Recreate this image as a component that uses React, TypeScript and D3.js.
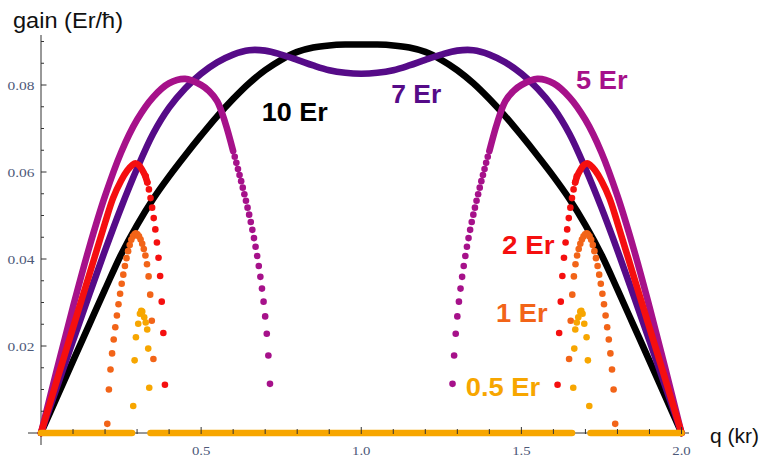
import React from 'react';
import * as d3 from 'd3';

type P = [number, number];

const W = 762;
const H = 459;

// ---- data: q (kr), gain (Er/ħ) ----
const er10: P[] = [
  [0, 0], [0.05, 0.0083], [0.1, 0.0166], [0.15, 0.0248], [0.2, 0.033], [0.25, 0.041],
  [0.3, 0.0478], [0.35, 0.0538], [0.4, 0.059], [0.45, 0.0638], [0.5, 0.0684], [0.55, 0.0728],
  [0.6, 0.0768], [0.65, 0.0804], [0.7, 0.0834], [0.75, 0.0858], [0.8, 0.0876], [0.85, 0.0886],
  [0.9, 0.0891], [0.95, 0.0893], [1.0, 0.0893], [1.05, 0.0893], [1.1, 0.0891], [1.15, 0.0886],
  [1.2, 0.0876], [1.25, 0.0858], [1.3, 0.0834], [1.35, 0.0804], [1.4, 0.0768], [1.45, 0.0728],
  [1.5, 0.0684], [1.55, 0.0638], [1.6, 0.059], [1.65, 0.0538], [1.7, 0.0478], [1.75, 0.041],
  [1.8, 0.033], [1.85, 0.0248], [1.9, 0.0166], [1.95, 0.0083], [2.0, 0],
];

const er7: P[] = [
  [0, 0], [0.05, 0.0106], [0.1, 0.0212], [0.15, 0.0317], [0.2, 0.042], [0.25, 0.0518],
  [0.3, 0.0608], [0.35, 0.0688], [0.4, 0.0748], [0.45, 0.0792], [0.5, 0.0826], [0.55, 0.0852],
  [0.6, 0.087], [0.65, 0.088], [0.7, 0.0879], [0.75, 0.087], [0.8, 0.0858], [0.85, 0.0845],
  [0.9, 0.0834], [0.95, 0.0828], [1.0, 0.0826], [1.05, 0.0828], [1.1, 0.0834], [1.15, 0.0845],
  [1.2, 0.0858], [1.25, 0.087], [1.3, 0.0879], [1.35, 0.088], [1.4, 0.087], [1.45, 0.0852],
  [1.5, 0.0826], [1.55, 0.0792], [1.6, 0.0748], [1.65, 0.0688], [1.7, 0.0608], [1.75, 0.0518],
  [1.8, 0.042], [1.85, 0.0317], [1.9, 0.0212], [1.95, 0.0106], [2.0, 0],
];

const er5LineLeft: P[] = [
  [0, 0], [0.05, 0.0147], [0.1, 0.029], [0.15, 0.0425], [0.2, 0.0545], [0.25, 0.0645],
  [0.3, 0.072], [0.35, 0.0772], [0.4, 0.0804], [0.45, 0.0814], [0.5, 0.08], [0.525, 0.0786],
  [0.55, 0.0763], [0.575, 0.0714], [0.6, 0.0648],
];
const er5LineRight: P[] = [
  [1.4, 0.0648], [1.425, 0.0714], [1.45, 0.0763], [1.475, 0.0786], [1.5, 0.08], [1.55, 0.0814],
  [1.6, 0.0804], [1.65, 0.0772], [1.7, 0.072], [1.75, 0.0645], [1.8, 0.0545], [1.85, 0.0425],
  [1.9, 0.029], [1.95, 0.0147], [2.0, 0],
];
const er5DotsLeft: P[] = [
  [0.605, 0.0635], [0.61, 0.0621], [0.615, 0.0607], [0.62, 0.0593], [0.625, 0.0579], [0.63, 0.0564],
  [0.635, 0.0549], [0.64, 0.0534], [0.645, 0.0518], [0.65, 0.0502], [0.655, 0.0485], [0.66, 0.0467],
  [0.665, 0.0448], [0.67, 0.0428], [0.675, 0.0407], [0.68, 0.0384], [0.685, 0.0359], [0.69, 0.0332],
  [0.695, 0.0302], [0.7, 0.0268], [0.705, 0.0228], [0.71, 0.0178], [0.715, 0.0113],
];
const er5DotsRight: P[] = [
  [1.395, 0.0635], [1.39, 0.0621], [1.385, 0.0607], [1.38, 0.0593], [1.375, 0.0579], [1.37, 0.0564],
  [1.365, 0.0549], [1.36, 0.0534], [1.355, 0.0518], [1.35, 0.0502], [1.345, 0.0485], [1.34, 0.0467],
  [1.335, 0.0448], [1.33, 0.0428], [1.325, 0.0407], [1.32, 0.0384], [1.315, 0.0359], [1.31, 0.0332],
  [1.305, 0.0302], [1.3, 0.0268], [1.295, 0.0228], [1.29, 0.0178], [1.285, 0.0113],
];

const er2LineLeft: P[] = [
  [0, 0], [0.05, 0.0122], [0.1, 0.0242], [0.15, 0.0362], [0.2, 0.0483], [0.225, 0.054],
  [0.25, 0.058], [0.27, 0.0604], [0.285, 0.0616], [0.295, 0.062], [0.305, 0.0616], [0.315, 0.0606],
  [0.325, 0.0592], [0.332, 0.0576],
];
const er2LineRight: P[] = [
  [1.668, 0.0576], [1.675, 0.0592], [1.685, 0.0606], [1.695, 0.0616], [1.705, 0.062], [1.715, 0.0616],
  [1.73, 0.0604], [1.75, 0.058], [1.775, 0.054], [1.8, 0.0483], [1.85, 0.0362], [1.9, 0.0242],
  [1.95, 0.0122], [2.0, 0],
];
const er2DotsLeft: P[] = [
  [0.327, 0.059], [0.332, 0.0576], [0.337, 0.056], [0.342, 0.054], [0.347, 0.0518], [0.352, 0.0494],
  [0.357, 0.0468], [0.362, 0.0438], [0.367, 0.0403], [0.372, 0.0361], [0.377, 0.0302], [0.382, 0.023],
  [0.387, 0.0111],
];
const er2DotsRight: P[] = [
  [1.673, 0.059], [1.668, 0.0576], [1.663, 0.056], [1.658, 0.054], [1.653, 0.0518], [1.648, 0.0494],
  [1.643, 0.0468], [1.638, 0.0438], [1.633, 0.0403], [1.628, 0.0361], [1.623, 0.0302], [1.618, 0.023],
  [1.613, 0.0111],
];

const er1DotsLeft: P[] = [
  [0.207, 0.0021], [0.212, 0.01], [0.217, 0.0146], [0.222, 0.0183], [0.227, 0.0215], [0.232, 0.0243],
  [0.237, 0.027], [0.242, 0.0296], [0.247, 0.032], [0.252, 0.0343], [0.257, 0.0364], [0.262, 0.0384],
  [0.267, 0.0402], [0.272, 0.0418], [0.277, 0.0432], [0.282, 0.0444], [0.287, 0.0452], [0.292, 0.0457],
  [0.296, 0.0459], [0.301, 0.0457], [0.306, 0.0452], [0.311, 0.0445], [0.316, 0.0435], [0.321, 0.0423],
  [0.326, 0.0408], [0.331, 0.0388], [0.336, 0.036], [0.341, 0.0318], [0.346, 0.0258], [0.351, 0.017],
];
const er1DotsRight: P[] = [
  [1.649, 0.017], [1.654, 0.0258], [1.659, 0.0318], [1.664, 0.036], [1.669, 0.0388], [1.674, 0.0408],
  [1.679, 0.0423], [1.684, 0.0435], [1.689, 0.0445], [1.694, 0.0452], [1.699, 0.0457], [1.704, 0.0459],
  [1.708, 0.0457], [1.713, 0.0452], [1.718, 0.0444], [1.723, 0.0432], [1.728, 0.0418], [1.733, 0.0402],
  [1.738, 0.0384], [1.743, 0.0364], [1.748, 0.0343], [1.753, 0.032], [1.758, 0.0296], [1.763, 0.027],
  [1.768, 0.0243], [1.773, 0.0215], [1.778, 0.0183], [1.783, 0.0146], [1.788, 0.01], [1.793, 0.0021],
];

const er05DotsLeft: P[] = [
  [0.288, 0.0062], [0.2923, 0.0167], [0.2964, 0.022], [0.3036, 0.0251], [0.3089, 0.0274], [0.313, 0.0281],
  [0.3161, 0.0279], [0.3223, 0.0266], [0.327, 0.0254], [0.3317, 0.0238], [0.3348, 0.0194], [0.338, 0.0104],
];
const er05DotsRight: P[] = [
  [1.712, 0.0062], [1.7077, 0.0167], [1.7036, 0.022], [1.6964, 0.0251], [1.6911, 0.0274], [1.687, 0.0281],
  [1.6839, 0.0279], [1.6777, 0.0266], [1.673, 0.0254], [1.6683, 0.0238], [1.6652, 0.0194], [1.662, 0.0104],
];
// q ranges where the 0.5 Er gain is zero
const er05ZeroRanges: P[] = [[0, 0.284], [0.342, 1.658], [1.716, 2.0]];

const xMajorTicks = [0.5, 1.0, 1.5, 2.0];
const xTickLabels = ['0.5', '1.0', '1.5', '2.0'];
const yMajorTicks = [0.02, 0.04, 0.06, 0.08];
const yTickLabels = ['0.02', '0.04', '0.06', '0.08'];

const seriesLabels = ['10 Er', '7 Er', '5 Er', '2 Er', '1 Er', '0.5 Er'];

// ---- styles / layout ----
const C10 = '#000000';
const C7 = '#560b88';
const C5 = '#a6118a';
const C2 = '#f50f0f';
const C1 = '#f26418';
const C05 = '#f7a600';
const TICK_COLOR = '#4d5979';

const labelLayout = [
  { q: 0.6895, g: 0.0717, w: 66, color: C10 },
  { q: 1.0936, g: 0.0759, w: 50, color: C7 },
  { q: 1.6708, g: 0.0791, w: 51.5, color: C5 },
  { q: 1.4399, g: 0.0412, w: 52.5, color: C2 },
  { q: 1.4212, g: 0.0256, w: 51.5, color: C1 },
  { q: 1.3261, g: 0.0084, w: 74.5, color: C05 },
];

const LW = 6.6;
const R = 3.3;

export default function App() {
  const x = d3.scaleLinear().domain([0, 2]).range([41, 681.5]);
  const y = d3.scaleLinear().domain([0, 0.08]).range([433, 85]);
  const line = d3
    .line<P>()
    .x((d) => x(d[0]))
    .y((d) => y(d[1]))
    .curve(d3.curveCatmullRom.alpha(0.5));

  const xMinor = x.ticks(20).filter((t) => t > 0 && !xMajorTicks.some((m) => Math.abs(m - t) < 1e-9));
  const yMinor = d3.range(1, 19).map((i) => i * 0.005).filter((t) => !yMajorTicks.some((m) => Math.abs(m - t) < 1e-9));

  const path = (d: P[], color: string, key: string) => (
    <path key={key} d={line(d) || ''} fill="none" stroke={color} strokeWidth={LW} strokeLinecap="round" strokeLinejoin="round" />
  );
  const dots = (d: P[], color: string, key: string) => (
    <g key={key} fill={color}>
      {d.map((p, i) => (
        <circle key={i} cx={x(p[0])} cy={y(p[1])} r={R} />
      ))}
    </g>
  );

  return (
    <svg width={W} height={H} style={{ position: 'absolute', left: 0, top: 0, display: 'block', background: '#fff' }}>
      <rect width={W} height={H} fill="#fff" />
      {/* axes lines */}
      <line x1={28} x2={689} y1={y(0)} y2={y(0)} stroke="#333" strokeWidth={1} />
      <line x1={x(0)} x2={x(0)} y1={445} y2={35} stroke="#333" strokeWidth={1} />

      {/* series, bottom to top */}
      {path(er10, C10, 'b')}
      {path(er7, C7, 'p')}
      {path(er5LineLeft, C5, 'm1')}
      {path(er5LineRight, C5, 'm2')}
      {dots(er5DotsLeft, C5, 'md1')}
      {dots(er5DotsRight, C5, 'md2')}
      {path(er2LineLeft, C2, 'r1')}
      {path(er2LineRight, C2, 'r2')}
      {dots(er2DotsLeft, C2, 'rd1')}
      {dots(er2DotsRight, C2, 'rd2')}
      {dots(er1DotsLeft, C1, 'o1')}
      {dots(er1DotsRight, C1, 'o2')}
      {er05ZeroRanges.map((r, i) => (
        <line key={'z' + i} x1={x(r[0])} x2={x(r[1])} y1={y(0)} y2={y(0)} stroke={C05} strokeWidth={LW} strokeLinecap="round" />
      ))}
      {dots(er05DotsLeft, C05, 'g1')}
      {dots(er05DotsRight, C05, 'g2')}

      {/* ticks */}
      <g stroke="#333" strokeWidth={1}>
        {xMajorTicks.map((t) => (
          <line key={'xM' + t} x1={x(t)} x2={x(t)} y1={y(0) + 1} y2={y(0) - 6} />
        ))}
        {xMinor.map((t) => (
          <line key={'xm' + t} x1={x(t)} x2={x(t)} y1={y(0) + 1} y2={y(0) - 4} />
        ))}
        {yMajorTicks.map((t) => (
          <line key={'yM' + t} x1={x(0)} x2={x(0) + 5.5} y1={y(t)} y2={y(t)} />
        ))}
        {yMinor.map((t) => (
          <line key={'ym' + t} x1={x(0)} x2={x(0) + 3} y1={y(t)} y2={y(t)} />
        ))}
      </g>

      {/* tick labels */}
      <g fontFamily="'Liberation Serif', 'DejaVu Serif', serif" fontSize={13} fill={TICK_COLOR}>
        {xMajorTicks.map((t, i) => (
          <text key={'xl' + t} x={x(t)} y={455} textAnchor="middle" textLength={18.5} lengthAdjust="spacingAndGlyphs">
            {xTickLabels[i]}
          </text>
        ))}
        {yMajorTicks.map((t, i) => (
          <text key={'yl' + t} x={34.5} y={y(t) + 4.5} textAnchor="end" textLength={27} lengthAdjust="spacingAndGlyphs">
            {yTickLabels[i]}
          </text>
        ))}
      </g>

      {/* axis titles */}
      <g fontFamily="'Liberation Sans', Arial, sans-serif" fill="#111">
        <text x={13} y={27.5} fontSize={22} textLength={110} lengthAdjust="spacingAndGlyphs">gain (Er/ħ)</text>
        <text x={710} y={443} fontSize={21}>q (kr)</text>
      </g>

      {/* series labels */}
      <g fontFamily="'Liberation Sans', Arial, sans-serif" fontWeight="bold" fontSize={25}>
        {seriesLabels.map((s, i) => (
          <text
            key={s}
            x={x(labelLayout[i].q)}
            y={y(labelLayout[i].g)}
            fill={labelLayout[i].color}
            textLength={labelLayout[i].w}
            lengthAdjust="spacingAndGlyphs"
          >
            {s}
          </text>
        ))}
      </g>
    </svg>
  );
}
